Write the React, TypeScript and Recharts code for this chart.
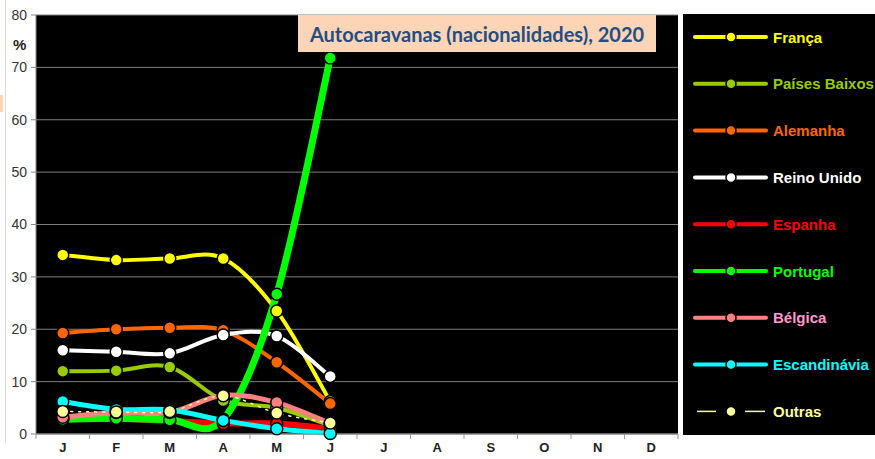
import React from 'react';
import { LineChart, Line, XAxis, YAxis, CartesianGrid } from 'recharts';

const months = ['J', 'F', 'M', 'A', 'M', 'J', 'J', 'A', 'S', 'O', 'N', 'D'];
const yTicks = [0, 10, 20, 30, 40, 50, 60, 70, 80];

// % por mês (só Jan-Jun com dados)
const franca = [34.2, 33.2, 33.5, 33.5, 23.5, 6.2];
const paisesBaixos = [12.0, 12.1, 12.8, 6.4, 5.0, 1.6];
const alemanha = [19.3, 20.0, 20.3, 19.8, 13.7, 5.8];
const reinoUnido = [16.0, 15.7, 15.4, 18.9, 18.7, 11.0];
const espanha = [2.8, 2.9, 2.5, 2.0, 2.0, 1.0];
const portugal = [2.8, 3.0, 2.7, 2.8, 26.7, 71.8];
const belgica = [3.2, 4.1, 4.1, 7.4, 6.0, 2.0];
const escandinavia = [6.2, 4.7, 4.6, 2.6, 1.0, 0.1];
const outras = [4.3, 4.2, 4.3, 7.3, 4.0, 2.1];

const series = [
    { key: 'franca', name: 'França', values: franca, color: '#FFFF00', text: '#FFFF00', width: 4 },
    { key: 'pb', name: 'Países Baixos', values: paisesBaixos, color: '#99CC00', text: '#99CC00', width: 4 },
    { key: 'alemanha', name: 'Alemanha', values: alemanha, color: '#FF6600', text: '#FF6600', width: 4 },
    { key: 'ru', name: 'Reino Unido', values: reinoUnido, color: '#FFFFFF', text: '#FFFFFF', width: 4 },
    { key: 'espanha', name: 'Espanha', values: espanha, color: '#FF0000', text: '#FF0000', width: 6 },
    { key: 'portugal', name: 'Portugal', values: portugal, color: '#00FF00', text: '#00FF00', width: 7 },
    { key: 'belgica', name: 'Bélgica', values: belgica, color: '#FF8080', text: '#FF99CC', width: 5 },
    { key: 'escand', name: 'Escandinávia', values: escandinavia, color: '#00FFFF', text: '#00FFFF', width: 5 },
    { key: 'outras', name: 'Outras', values: outras, color: '#FFFF99', text: '#FFFF99', width: 1.5, dash: '2 6' },
];

const rows = months.map((_, i) => {
    const row: any = { x: i + 0.5 };
    series.forEach((s) => {
        row[s.key] = i < s.values.length ? s.values[i] : null;
    });
    return row;
});

const xTicks = Array.from({ length: 25 }, (_, i) => i / 2);

// smoothing like the spreadsheet one (catmull-rom style beziers)
const smooth = (context: any) => {
    let pts: number[][] = [];
    return {
        areaStart() {},
        areaEnd() {},
        lineStart() {
            pts = [];
        },
        point(x: number, y: number) {
            pts.push([+x, +y]);
        },
        lineEnd() {
            const n = pts.length;
            if (!n) return;
            context.moveTo(pts[0][0], pts[0][1]);
            for (let i = 0; i < n - 1; i++) {
                const p0 = pts[i - 1] || pts[i];
                const p1 = pts[i];
                const p2 = pts[i + 1];
                const p3 = pts[i + 2] || p2;
                context.bezierCurveTo(
                    p1[0] + (p2[0] - p0[0]) / 6,
                    p1[1] + (p2[1] - p0[1]) / 6,
                    p2[0] - (p3[0] - p1[0]) / 6,
                    p2[1] - (p3[1] - p1[1]) / 6,
                    p2[0],
                    p2[1]
                );
            }
        },
    };
};

const MonthTick = ({ x, y, payload }: any) => {
    const v = payload.value;
    if (Number.isInteger(v)) {
        return <line x1={x} x2={x} y1={y - 5} y2={y} stroke="#999" />;
    }
    return (
        <text x={x} y={y + 13} textAnchor="middle" fill="#222" fontSize={13} fontWeight="bold"
            fontFamily="'Liberation Sans', Arial, sans-serif">
            {months[Math.floor(v)]}
        </text>
    );
};

export default function App() {
    return (
        <div style={{ position: 'absolute', left: 0, top: 0, width: 875, height: 459, background: '#fff', overflow: 'hidden' }}>
            <div style={{ position: 'absolute', left: 5, top: 0, width: 1, height: 443, background: '#dcdcdc' }} />
            <div style={{ position: 'absolute', left: 0, top: 95, width: 3, height: 17, background: '#FBD5B5' }} />
            <LineChart width={875} height={459} data={rows} margin={{ top: 15, right: 197, bottom: 0, left: 0 }}>
                <CartesianGrid xAxisId="m" vertical={false} fill="#000" fillOpacity={1} stroke="#7f7f7f" />
                <XAxis
                    xAxisId="m"
                    type="number"
                    dataKey="x"
                    domain={[0, 12]}
                    ticks={xTicks}
                    interval={0}
                    tick={MonthTick}
                    tickLine={false}
                    tickSize={5}
                    tickMargin={0}
                    height={25}
                    stroke="#888"
                />
                <YAxis
                    domain={[0, 80]}
                    ticks={yTicks}
                    interval={0}
                    width={36}
                    tickSize={5}
                    tickMargin={4}
                    stroke="#888"
                    tick={{ fill: '#333', fontSize: 14, fontFamily: "'Liberation Sans', Arial, sans-serif" }}
                />
                {series.map((s) => (
                    <Line
                        key={s.key}
                        xAxisId="m"
                        dataKey={s.key}
                        name={s.name}
                        type={smooth as any}
                        stroke={s.color}
                        strokeWidth={s.width}
                        strokeDasharray={s.dash}
                        strokeLinecap="round"
                        dot={{ r: 6, fill: s.color, stroke: '#000', strokeWidth: 1.5, strokeDasharray: '' }}
                        activeDot={false}
                        isAnimationActive={false}
                    />
                ))}
            </LineChart>

            <div style={{ position: 'absolute', left: 13, top: 36, fontFamily: "'Liberation Sans', Arial, sans-serif", fontWeight: 'bold', fontSize: 15, color: '#222' }}>
                %
            </div>

            <div style={{
                position: 'absolute', left: 298, top: 15, width: 358, height: 37, background: '#FBD5B5',
                display: 'flex', alignItems: 'center', justifyContent: 'center',
                fontFamily: "Lato, 'Open Sans', sans-serif", fontWeight: 'bold', fontSize: 20, color: '#264D82',
            }}>
                Autocaravanas (nacionalidades), 2020
            </div>

            <svg style={{ position: 'absolute', left: 683, top: 14 }} width={192} height={421}>
                <rect x={0} y={0} width={192} height={421} fill="#000" />
                {series.map((s, i) => {
                    const cy = 23 + i * 46.8;
                    const dashed = !!s.dash;
                    return (
                        <g key={s.key}>
                            {dashed ? (
                                <>
                                    <line x1={14} x2={33} y1={cy} y2={cy} stroke={s.color} strokeWidth={1.5} />
                                    <line x1={62} x2={82} y1={cy} y2={cy} stroke={s.color} strokeWidth={1.5} />
                                </>
                            ) : (
                                <line x1={12} x2={83} y1={cy} y2={cy} stroke={s.color} strokeWidth={4} strokeLinecap="round" />
                            )}
                            <circle cx={48} cy={cy} r={5} fill={s.color} stroke="#000" strokeWidth={1.5} />
                            <text x={90} y={cy + 5.5} fill={s.text} fontSize={15} fontWeight="bold"
                                fontFamily="'Liberation Sans', Arial, sans-serif">
                                {s.name}
                            </text>
                        </g>
                    );
                })}
            </svg>
        </div>
    );
}
